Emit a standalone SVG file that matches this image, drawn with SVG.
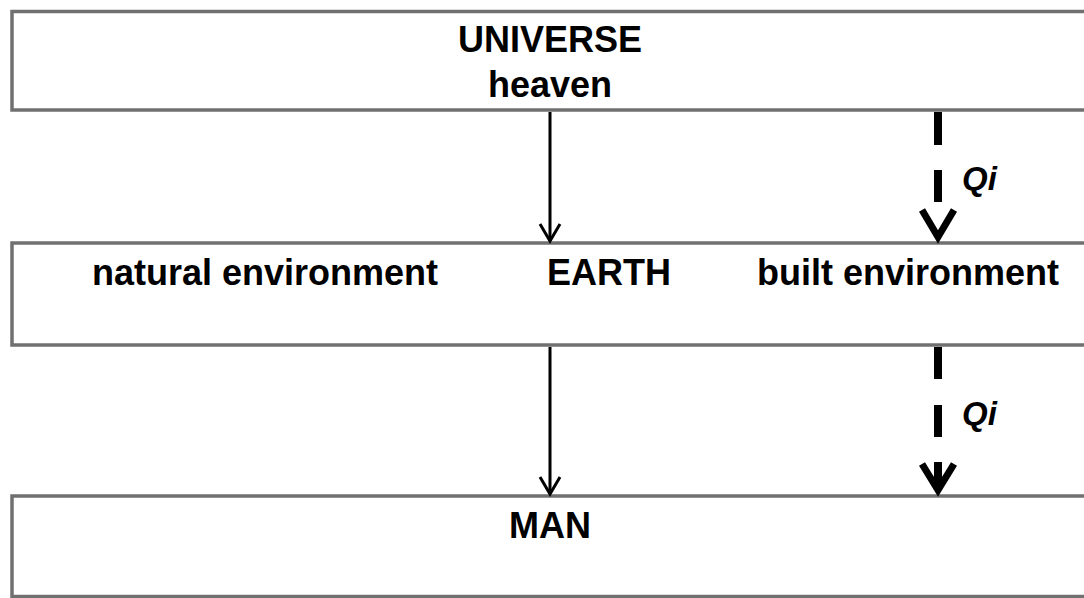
<svg xmlns="http://www.w3.org/2000/svg" width="1084" height="598" viewBox="0 0 1084 598">
<style>
.box{fill:#fff;stroke:#707070;stroke-width:3.5}
.t{font-family:"Liberation Sans",Arial,sans-serif;font-weight:bold;font-size:36px;fill:#000}
.q{font-family:"Liberation Sans",Arial,sans-serif;font-weight:bold;font-style:italic;font-size:33px;fill:#000}
.solid{stroke:#000;stroke-width:3;fill:none}
.dash{stroke:#000;stroke-width:8;fill:none}
.chev{stroke:#000;stroke-width:7;fill:none;stroke-linejoin:miter}
</style>
<rect width="1084" height="598" fill="#fff"/>
<g id="universe">
<rect class="box" x="12" y="11.5" width="1080" height="98.5"/>
<text class="t" x="550" y="52" text-anchor="middle">UNIVERSE</text>
<text class="t" x="550" y="97" text-anchor="middle" font-size="34">heaven</text>
</g>
<g id="earth">
<rect class="box" x="12" y="243" width="1080" height="102"/>
<text class="t" x="92" y="285" font-size="37">natural environment</text>
<text class="t" x="547" y="285">EARTH</text>
<text class="t" x="757" y="285">built environment</text>
</g>
<g id="man">
<rect class="box" x="12" y="496" width="1080" height="100.5"/>
<text class="t" x="550" y="538" text-anchor="middle">MAN</text>
</g>
<g id="connectors">
<line class="solid" x1="550" y1="112" x2="550" y2="241"/>
<polyline class="solid" points="540,224 550,241 560,224"/>
<line class="solid" x1="550" y1="347" x2="550" y2="494"/>
<polyline class="solid" points="540,477 550,494 560,477"/>
<line class="dash" x1="938" y1="112" x2="938" y2="145"/>
<line class="dash" x1="938" y1="170" x2="938" y2="202"/>
<polyline class="chev" points="922,210 938,237 954,210"/>
<text class="q" x="962" y="190">Qi</text>
<line class="dash" x1="938" y1="347" x2="938" y2="379"/>
<line class="dash" x1="938" y1="405" x2="938" y2="437"/>
<line class="dash" x1="938" y1="462" x2="938" y2="488"/>
<polyline class="chev" points="922,464 938,490 954,464" stroke-width="9"/>
<text class="q" x="962" y="425">Qi</text>
</g>
</svg>
